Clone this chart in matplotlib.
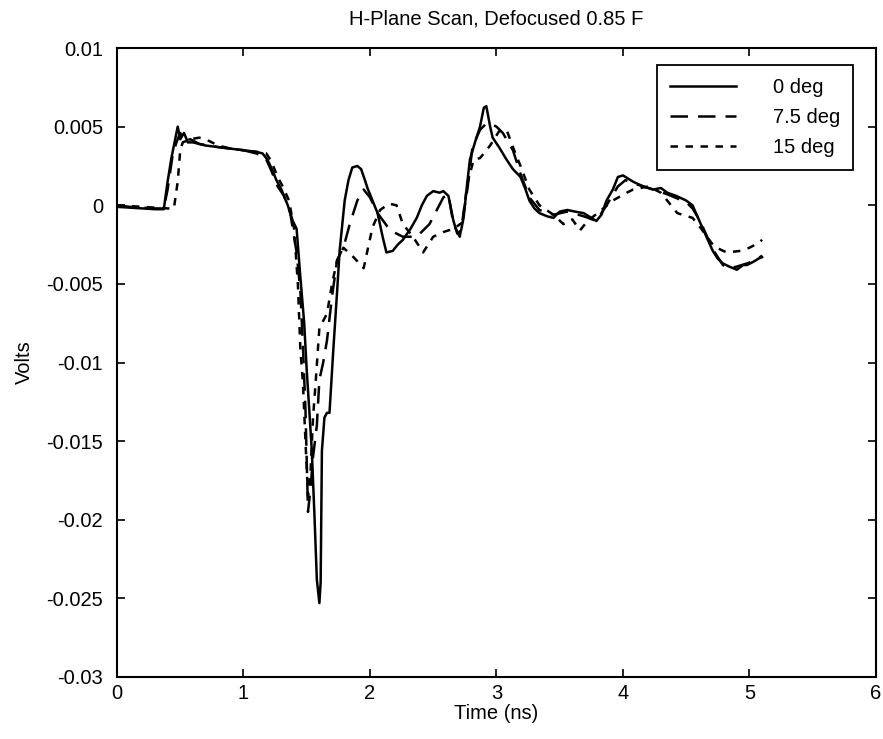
import matplotlib
matplotlib.use("Agg")
import matplotlib.pyplot as plt
import numpy as np

plt.rcParams['font.family'] = ['Liberation Sans', 'DejaVu Sans']
plt.rcParams['axes.unicode_minus'] = False

# ---- data (values in mV, scaled to volts below) ----
t0 = [0, 0.1, 0.2, 0.3, 0.37, 0.40, 0.43, 0.46, 0.48, 0.50, 0.53, 0.56, 0.6, 0.7, 0.8, 0.9, 1.0, 1.1, 1.15,
      1.19, 1.23, 1.26, 1.3, 1.35, 1.39, 1.42, 1.45, 1.48, 1.50, 1.52, 1.54, 1.56, 1.58, 1.60, 1.61, 1.62,
      1.64, 1.66, 1.68, 1.71, 1.74, 1.76, 1.80, 1.83, 1.86, 1.90, 1.93, 1.96, 1.98, 2.02, 2.06, 2.10, 2.13,
      2.18, 2.22, 2.26, 2.32, 2.37, 2.41, 2.45, 2.50, 2.55, 2.58, 2.62, 2.66, 2.69, 2.72, 2.74, 2.77, 2.79,
      2.83, 2.87, 2.90, 2.92, 2.95, 2.97, 3.02, 3.08, 3.13, 3.19, 3.23, 3.26, 3.30, 3.34, 3.40, 3.45, 3.50,
      3.56, 3.62, 3.69, 3.75, 3.79, 3.83, 3.87, 3.92, 3.96, 4.00, 4.08, 4.16, 4.24, 4.30, 4.35, 4.42, 4.50,
      4.55, 4.61, 4.66, 4.71, 4.75, 4.79, 4.84, 4.90, 4.95, 4.98, 5.03, 5.07, 5.10]
v0 = [-0.1, -0.15, -0.2, -0.25, -0.25, 1.5, 3.0, 4.2, 5.0, 4.2, 4.6, 4.0, 4.0, 3.8, 3.7, 3.6, 3.5, 3.4, 3.3,
      2.9, 2.2, 1.6, 1.0, 0.0, -1.0, -1.5, -4.6, -7.5, -10.5, -13.0, -15.6, -19.5, -23.8, -25.3, -24.0, -15.6,
      -13.5, -13.2, -13.2, -9.2, -5.5, -2.9, 0.3, 1.6, 2.4, 2.5, 2.3, 1.6, 1.1, 0.3, -0.5, -2.0, -3.0,
      -2.9, -2.5, -2.2, -1.5, -0.8, 0.0, 0.6, 0.9, 0.8, 0.9, 0.6, -1.0, -1.8, -1.6, -0.8, 1.5, 2.9,
      4.0, 5.0, 6.2, 6.3, 5.0, 4.3, 3.7, 2.9, 2.3, 1.8, 1.0, 0.3, -0.2, -0.5, -0.7, -0.8, -0.4,
      -0.3, -0.4, -0.5, -0.8, -1.0, -0.6, 0.3, 1.0, 1.8, 1.9, 1.5, 1.2, 1.0, 1.1, 0.8, 0.6, 0.3,
      0.0, -1.1, -2.0, -2.9, -3.4, -3.7, -3.9, -4.1, -3.8, -3.8, -3.6, -3.4, -3.3]

t75 = [0, 0.1, 0.2, 0.3, 0.37, 0.40, 0.44, 0.47, 0.50, 0.53, 0.58, 0.65, 0.8, 1.0, 1.1, 1.17, 1.22, 1.27,
       1.32, 1.37, 1.42, 1.45, 1.47, 1.49, 1.51, 1.53, 1.55, 1.58, 1.60, 1.63, 1.66, 1.70, 1.74, 1.77, 1.80,
       1.84, 1.90, 1.95, 2.00, 2.06, 2.16, 2.26, 2.37, 2.47, 2.58, 2.62, 2.66, 2.71, 2.77, 2.81, 2.87, 2.92,
       2.95, 3.00, 3.05, 3.13, 3.19, 3.26, 3.34, 3.45, 3.56, 3.69, 3.79, 3.87, 3.96, 4.02, 4.08, 4.24, 4.35,
       4.50, 4.55, 4.61, 4.71, 4.79, 4.84, 4.90, 4.98, 5.05, 5.10]
v75 = [0.0, -0.1, -0.15, -0.2, -0.2, 1.0, 3.2, 4.0, 4.6, 4.1, 4.2, 3.9, 3.7, 3.5, 3.3, 3.1, 2.2, 1.2,
       0.6, -0.5, -3.0, -5.5, -9.0, -13.0, -19.5, -18.0, -16.0, -14.0, -11.1, -10.0, -8.6, -5.8, -3.5, -3.0, -2.4,
       -1.2, 0.3, 1.0, 0.5, -0.5, -1.6, -2.0, -2.0, -1.2, 0.5, 0.7, -1.2, -2.0, 1.0, 3.7, 4.8, 5.2,
       5.2, 5.0, 4.6, 3.5, 2.0, 0.5, -0.3, -0.6, -0.4, -0.7, -1.0, 0.0, 1.2, 1.6, 1.4, 1.0, 0.7,
       0.2, -0.2, -1.0, -2.8, -3.8, -4.0, -3.9, -3.7, -3.5, -3.2]

t15 = [0, 0.1, 0.2, 0.3, 0.4, 0.45, 0.48, 0.50, 0.52, 0.58, 0.65, 0.70, 0.8, 0.9, 1.0, 1.1, 1.18, 1.22,
       1.27, 1.31, 1.36, 1.40, 1.43, 1.45, 1.47, 1.49, 1.51, 1.53, 1.55, 1.57, 1.60, 1.66, 1.70, 1.74, 1.79,
       1.83, 1.87, 1.95, 2.02, 2.08, 2.15, 2.21, 2.26, 2.34, 2.42, 2.50, 2.58, 2.66, 2.73, 2.77, 2.82, 2.87,
       2.95, 3.02, 3.08, 3.13, 3.19, 3.26, 3.34, 3.45, 3.53, 3.60, 3.66, 3.72, 3.80, 3.92, 4.03, 4.08, 4.20,
       4.30, 4.43, 4.55, 4.62, 4.70, 4.74, 4.82, 4.93, 5.00, 5.07, 5.10]
v15 = [0.0, -0.05, -0.1, -0.15, -0.2, -0.2, 1.5, 3.5, 4.0, 4.2, 4.3, 4.2, 3.8, 3.6, 3.5, 3.4, 3.3, 2.8,
       1.8, 1.2, 0.3, -1.5, -5.0, -9.2, -11.3, -15.0, -18.5, -17.0, -13.5, -11.3, -7.8, -6.9, -5.0, -3.5, -2.7,
       -3.0, -3.3, -4.0, -1.4, -0.3, 0.1, 0.0, -1.2, -2.0, -3.0, -2.0, -1.7, -1.5, -1.1, 1.4, 2.9, 3.0,
       3.8, 4.7, 4.8, 3.7, 2.5, 1.0, 0.0, -0.6, -1.2, -0.9, -1.6, -1.0, -0.5, 0.3, 0.8, 1.0, 1.2,
       0.8, -0.5, -0.8, -1.5, -2.4, -2.7, -3.0, -2.9, -2.7, -2.4, -2.2]

labels = ['0 deg', '7.5 deg', '15 deg']
xticks = [0, 1, 2, 3, 4, 5, 6]
yticks = [0.01, 0.005, 0, -0.005, -0.01, -0.015, -0.02, -0.025, -0.03]
ytick_labels = ['0.01', '0.005', '0', '-0.005', '-0.01', '-0.015', '-0.02', '-0.025', '-0.03']

FS = 14.5

fig = plt.figure(figsize=(8.83, 7.39), dpi=100)
ax = fig.add_axes([0.1325, 0.0839, 0.8595, 0.8511])

ax.plot(t0, np.array(v0) * 1e-3, color='black', lw=1.8, linestyle='-', label=labels[0])
ax.plot(t75, np.array(v75) * 1e-3, color='black', lw=1.8, linestyle=(0, (7, 4)), label=labels[1])
ax.plot(t15, np.array(v15) * 1e-3, color='black', lw=1.8, linestyle=(0, (3, 3)), label=labels[2])

ax.set_xlim(0, 6)
ax.set_ylim(-0.03, 0.01)
ax.set_xticks(xticks)
ax.set_xticklabels([str(x) for x in xticks])
ax.set_yticks(yticks)
ax.set_yticklabels(ytick_labels)
ax.tick_params(direction='in', length=6, width=1.2, top=True, right=True, labelsize=FS)
ax.tick_params(axis='y', pad=10)
ax.tick_params(axis='x', pad=5)
for s in ax.spines.values():
    s.set_linewidth(1.5)

ax.set_title('H-Plane Scan, Defocused 0.85 F', fontsize=FS, pad=17)
ax.set_xlabel('Time (ns)', fontsize=FS, labelpad=1)
ax.set_ylabel('Volts', fontsize=FS, labelpad=9)

leg = ax.legend(loc='upper right', bbox_to_anchor=(0.9697, 0.973), borderaxespad=0,
                fontsize=FS, frameon=True, fancybox=False, edgecolor='black', framealpha=1,
                handlelength=3.3, borderpad=0.65, labelspacing=0.55, handletextpad=1.8)
leg.get_frame().set_linewidth(1.3)

fig.savefig('out.png', dpi=100)
